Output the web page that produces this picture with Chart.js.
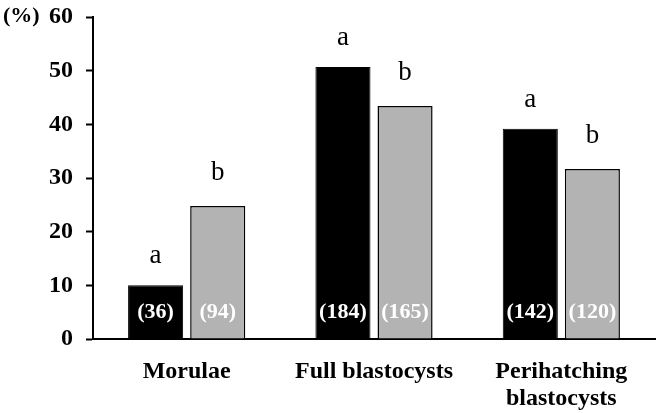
<!DOCTYPE html>
<html>
<head>
<meta charset="utf-8">
<script src="https://cdn.jsdelivr.net/npm/chart.js@4.4.0/dist/chart.umd.min.js"></script>
<style>
  html, body { margin: 0; padding: 0; background: #fff; }
  #wrap { width: 661px; height: 413px; }
</style>
</head>
<body>
<div id="wrap"><canvas id="c" width="661" height="413"></canvas></div>
<script>
// data
const categories = ["Morulae", "Full blastocysts", ["Perihatching", "blastocysts"]];
const blackValues = [10, 50.7, 39.2];
const grayValues = [24.8, 43.4, 31.7];
const blackCounts = ["(36)", "(184)", "(142)"];
const grayCounts = ["(94)", "(165)", "(120)"];
const blackLetters = ["a", "a", "a"];
const grayLetters = ["b", "b", "b"];
const yTicks = [0, 10, 20, 30, 40, 50, 60];

const serif = "'Liberation Serif', 'Times New Roman', serif";

// letters over the bars, counts at the foot of the bars, and the (%) unit
const barLabels = {
    id: 'barLabels',
    afterDatasetsDraw(chart) {
        const ctx = chart.ctx;
        const letters = [blackLetters, grayLetters];
        const counts = [blackCounts, grayCounts];
        const gap = [22, 26]; // b sits a bit higher than a
        const yBottom = chart.scales.y.getPixelForValue(0);
        ctx.save();
        ctx.textAlign = 'center';
        chart.data.datasets.forEach((ds, di) => {
            chart.getDatasetMeta(di).data.forEach((bar, i) => {
                ctx.fillStyle = '#000';
                ctx.font = '27px ' + serif;
                ctx.textBaseline = 'alphabetic';
                ctx.fillText(letters[di][i], bar.x, bar.y - gap[di]);
                ctx.fillStyle = '#fff';
                ctx.font = 'bold 22px ' + serif;
                ctx.textBaseline = 'middle';
                ctx.fillText(counts[di][i], bar.x, yBottom - 27);
            });
        });
        ctx.fillStyle = '#000';
        ctx.font = 'bold 22px ' + serif;
        ctx.textAlign = 'left';
        ctx.textBaseline = 'middle';
        ctx.fillText('(%)', 3, 16);
        ctx.restore();
    }
};

new Chart(document.getElementById('c').getContext('2d'), {
    type: 'bar',
    data: {
        labels: categories,
        datasets: [{
            data: blackValues,
            backgroundColor: '#000000',
            borderColor: '#000000',
            borderWidth: 1
        }, {
            data: grayValues,
            backgroundColor: '#b3b3b3',
            borderColor: '#000000',
            borderWidth: 1.5
        }]
    },
    options: {
        responsive: false,
        animation: false,
        categoryPercentage: 0.663,
        barPercentage: 0.887,
        layout: { padding: { top: 17, right: 6, left: 0, bottom: 0 } },
        plugins: {
            legend: { display: false },
            tooltip: { enabled: false }
        },
        scales: {
            x: {
                grid: { display: false },
                border: { color: '#000', width: 2 },
                ticks: {
                    color: '#000',
                    font: { family: serif, size: 24, weight: 'bold', lineHeight: 1.12 },
                    padding: 11,
                    maxRotation: 0
                },
                afterFit(scale) { scale.height = 74; }
            },
            y: {
                min: 0,
                max: 60,
                afterBuildTicks(scale) { scale.ticks = yTicks.map(v => ({ value: v })); },
                grid: {
                    drawOnChartArea: false,
                    drawTicks: true,
                    tickLength: 7,
                    tickWidth: 2,
                    color: '#000'
                },
                border: { color: '#000', width: 2 },
                ticks: {
                    color: '#000',
                    font: { family: serif, size: 24, weight: 'bold' },
                    padding: 13
                },
                afterFit(scale) {
                    scale.width = 93;
                    scale.paddingTop = 0;
                    scale.paddingBottom = 0;
                }
            }
        }
    },
    plugins: [barLabels]
});
</script>
</body>
</html>
